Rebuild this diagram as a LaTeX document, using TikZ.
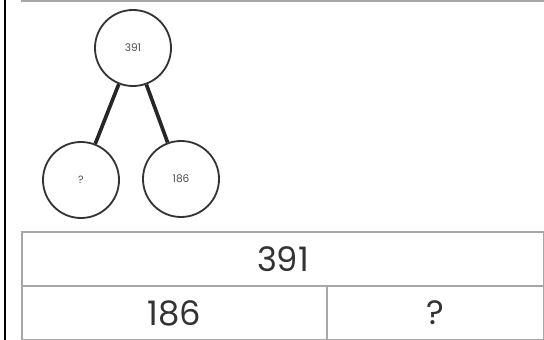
\documentclass[tikz,border=0pt]{standalone}
\usepackage{fontspec}
\setmainfont{Poppins}
\usetikzlibrary{positioning}
\tikzset{
    bond/.style = {circle, line width=1.3pt, draw=black!80, minimum size=1.9cm, inner sep=0pt, font=\fontsize{7.5}{8}\selectfont, text=black!70},
    bondedge/.style = {line width=2.6pt, draw=black!85},
    barcell/.style = {rectangle, line width=1.1pt, draw=black!35, inner sep=0pt, font=\fontsize{24}{26}\selectfont, text=black!80},
    rule/.style = {line width=0.8pt, draw=black!35}
}
\begin{document}
\begin{tikzpicture}[x=0.025cm,y=-0.025cm]
\useasboundingbox (0,0) rectangle (544,340);
%
\node[bond] at (133, 48) (whole) {391};
\node[bond] at (81, 180) (partA) {?};
\node[bond] at (181, 179) (partB) {186};
%
\draw[bondedge] (whole) -- (partA);
\draw[bondedge] (whole) -- (partB);
%
\node[barcell, minimum width=13.05cm, minimum height=1.35cm] at (283, 259) (bartop) {391};
\node[barcell, minimum width=7.625cm, minimum height=1.35cm] at (174.5, 313) (barleft) {186};
\node[barcell, minimum width=5.425cm, minimum height=1.35cm] at (435.5, 313) (barright) {?};
%
\draw[line width=1.4pt] (5, 0) -- (5, 340);
\draw[rule] (21, 1) -- (544, 1);

\end{tikzpicture}
\end{document}
